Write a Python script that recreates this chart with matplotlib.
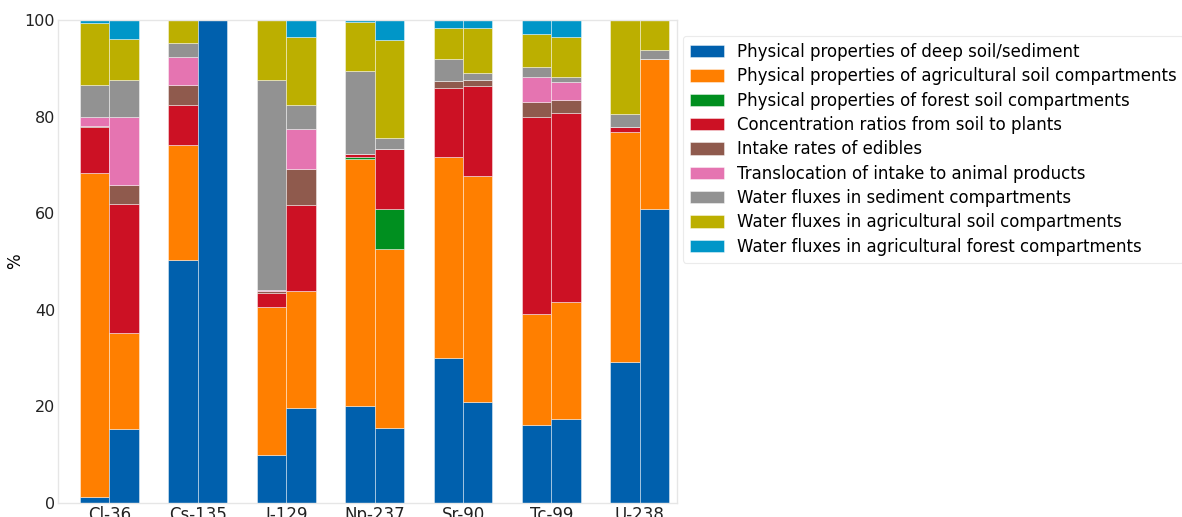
import matplotlib
matplotlib.use("Agg")
import matplotlib.pyplot as plt
import numpy as np

plt.rcParams['font.family'] = ['DejaVu Sans']

nuclides = ["Cl-36", "Cs-135", "I-129", "Np-237", "Sr-90", "Tc-99", "U-238"]

series_names = [
    "Physical properties of deep soil/sediment",
    "Physical properties of agricultural soil compartments",
    "Physical properties of forest soil compartments",
    "Concentration ratios from soil to plants",
    "Intake rates of edibles",
    "Translocation of intake to animal products",
    "Water fluxes in sediment compartments",
    "Water fluxes in agricultural soil compartments",
    "Water fluxes in agricultural forest compartments",
]

colors = ["#0060AD", "#FF7F00", "#008F1F", "#CC1124", "#8F5A4D",
          "#E574B1", "#929292", "#BCAF00", "#0096C8"]

# Each row: contributions (%) of the 9 series for one bar; two bars per nuclide
bar1 = {
    "Cl-36":  [1.2, 67.1, 0.0, 9.5, 0.25, 1.95, 6.5, 12.9, 0.6],
    "Cs-135": [50.4, 23.7, 0.0, 8.4, 4.0, 5.9, 2.9, 4.7, 0.0],
    "I-129":  [9.9, 30.6, 0.0, 3.0, 0.4, 0.3, 43.4, 12.3, 0.1],
    "Np-237": [20.0, 51.3, 0.4, 0.6, 0.0, 0.0, 17.1, 10.2, 0.4],
    "Sr-90":  [30.0, 41.7, 0.0, 14.2, 1.5, 0.0, 4.5, 6.5, 1.6],
    "Tc-99":  [16.1, 23.0, 0.0, 40.8, 3.1, 5.1, 2.1, 7.0, 2.8],
    "U-238":  [29.1, 47.7, 0.0, 1.1, 0.0, 0.0, 2.6, 19.5, 0.0],
}
bar2 = {
    "Cl-36":  [15.3, 20.0, 0.0, 26.7, 3.8, 14.1, 7.7, 8.5, 3.9],
    "Cs-135": [100.0, 0.0, 0.0, 0.0, 0.0, 0.0, 0.0, 0.0, 0.0],
    "I-129":  [19.6, 24.3, 0.0, 17.8, 7.5, 8.3, 4.8, 14.1, 3.6],
    "Np-237": [15.5, 37.0, 8.3, 12.5, 0.0, 0.0, 2.3, 20.3, 4.1],
    "Sr-90":  [21.0, 46.8, 0.0, 18.5, 1.3, 0.0, 1.4, 9.4, 1.6],
    "Tc-99":  [17.4, 24.2, 0.0, 39.1, 2.8, 3.7, 0.9, 8.3, 3.6],
    "U-238":  [60.8, 31.2, 0.0, 0.0, 0.0, 0.0, 1.8, 6.2, 0.0],
}

fig = plt.figure(figsize=(11.82, 5.17), dpi=100)
ax = fig.add_axes([58/1182, 1-503/517, (677-58)/1182, (503-20)/517])

x = np.arange(len(nuclides))
w = 1/3
for data, offset in ((bar1, -w/2), (bar2, w/2)):
    vals = np.array([data[n] for n in nuclides])
    bottom = np.zeros(len(nuclides))
    for j, name in enumerate(series_names):
        ax.bar(x + offset, vals[:, j], width=w, bottom=bottom, color=colors[j],
               edgecolor=(1, 1, 1, 0.6), linewidth=0.5,
               label=name if offset < 0 else None)
        bottom += vals[:, j]

ax.set_xlim(-0.58, 6.42)
ax.set_ylim(0, 100)
ax.set_xticks(x)
ax.set_xticklabels(nuclides, fontsize=12)
ax.set_yticks([0, 20, 40, 60, 80, 100])
ax.tick_params(axis='both', length=0, colors='#222222')
ax.tick_params(axis='y', pad=2, labelsize=11.5)
ax.tick_params(axis='x', pad=2)
ax.set_ylabel("%", fontsize=12)
ax.yaxis.set_label_coords(-0.055, 0.5)
for s in ax.spines.values():
    s.set_color('#e6e6e6')
    s.set_linewidth(1.0)

handles, labels = ax.get_legend_handles_labels()
leg = fig.legend(handles, labels, loc='upper left',
                 bbox_to_anchor=(683/1182, 1-36/517), borderaxespad=0,
                 fontsize=12, frameon=True, handlelength=2.04, handleheight=0.76,
                 labelspacing=0.38, borderpad=0.42, handletextpad=0.78,
                 fancybox=True)
leg.get_frame().set_edgecolor('#e6e6e6')
leg.get_frame().set_linewidth(0.8)

fig.savefig("out.png", dpi=100)
